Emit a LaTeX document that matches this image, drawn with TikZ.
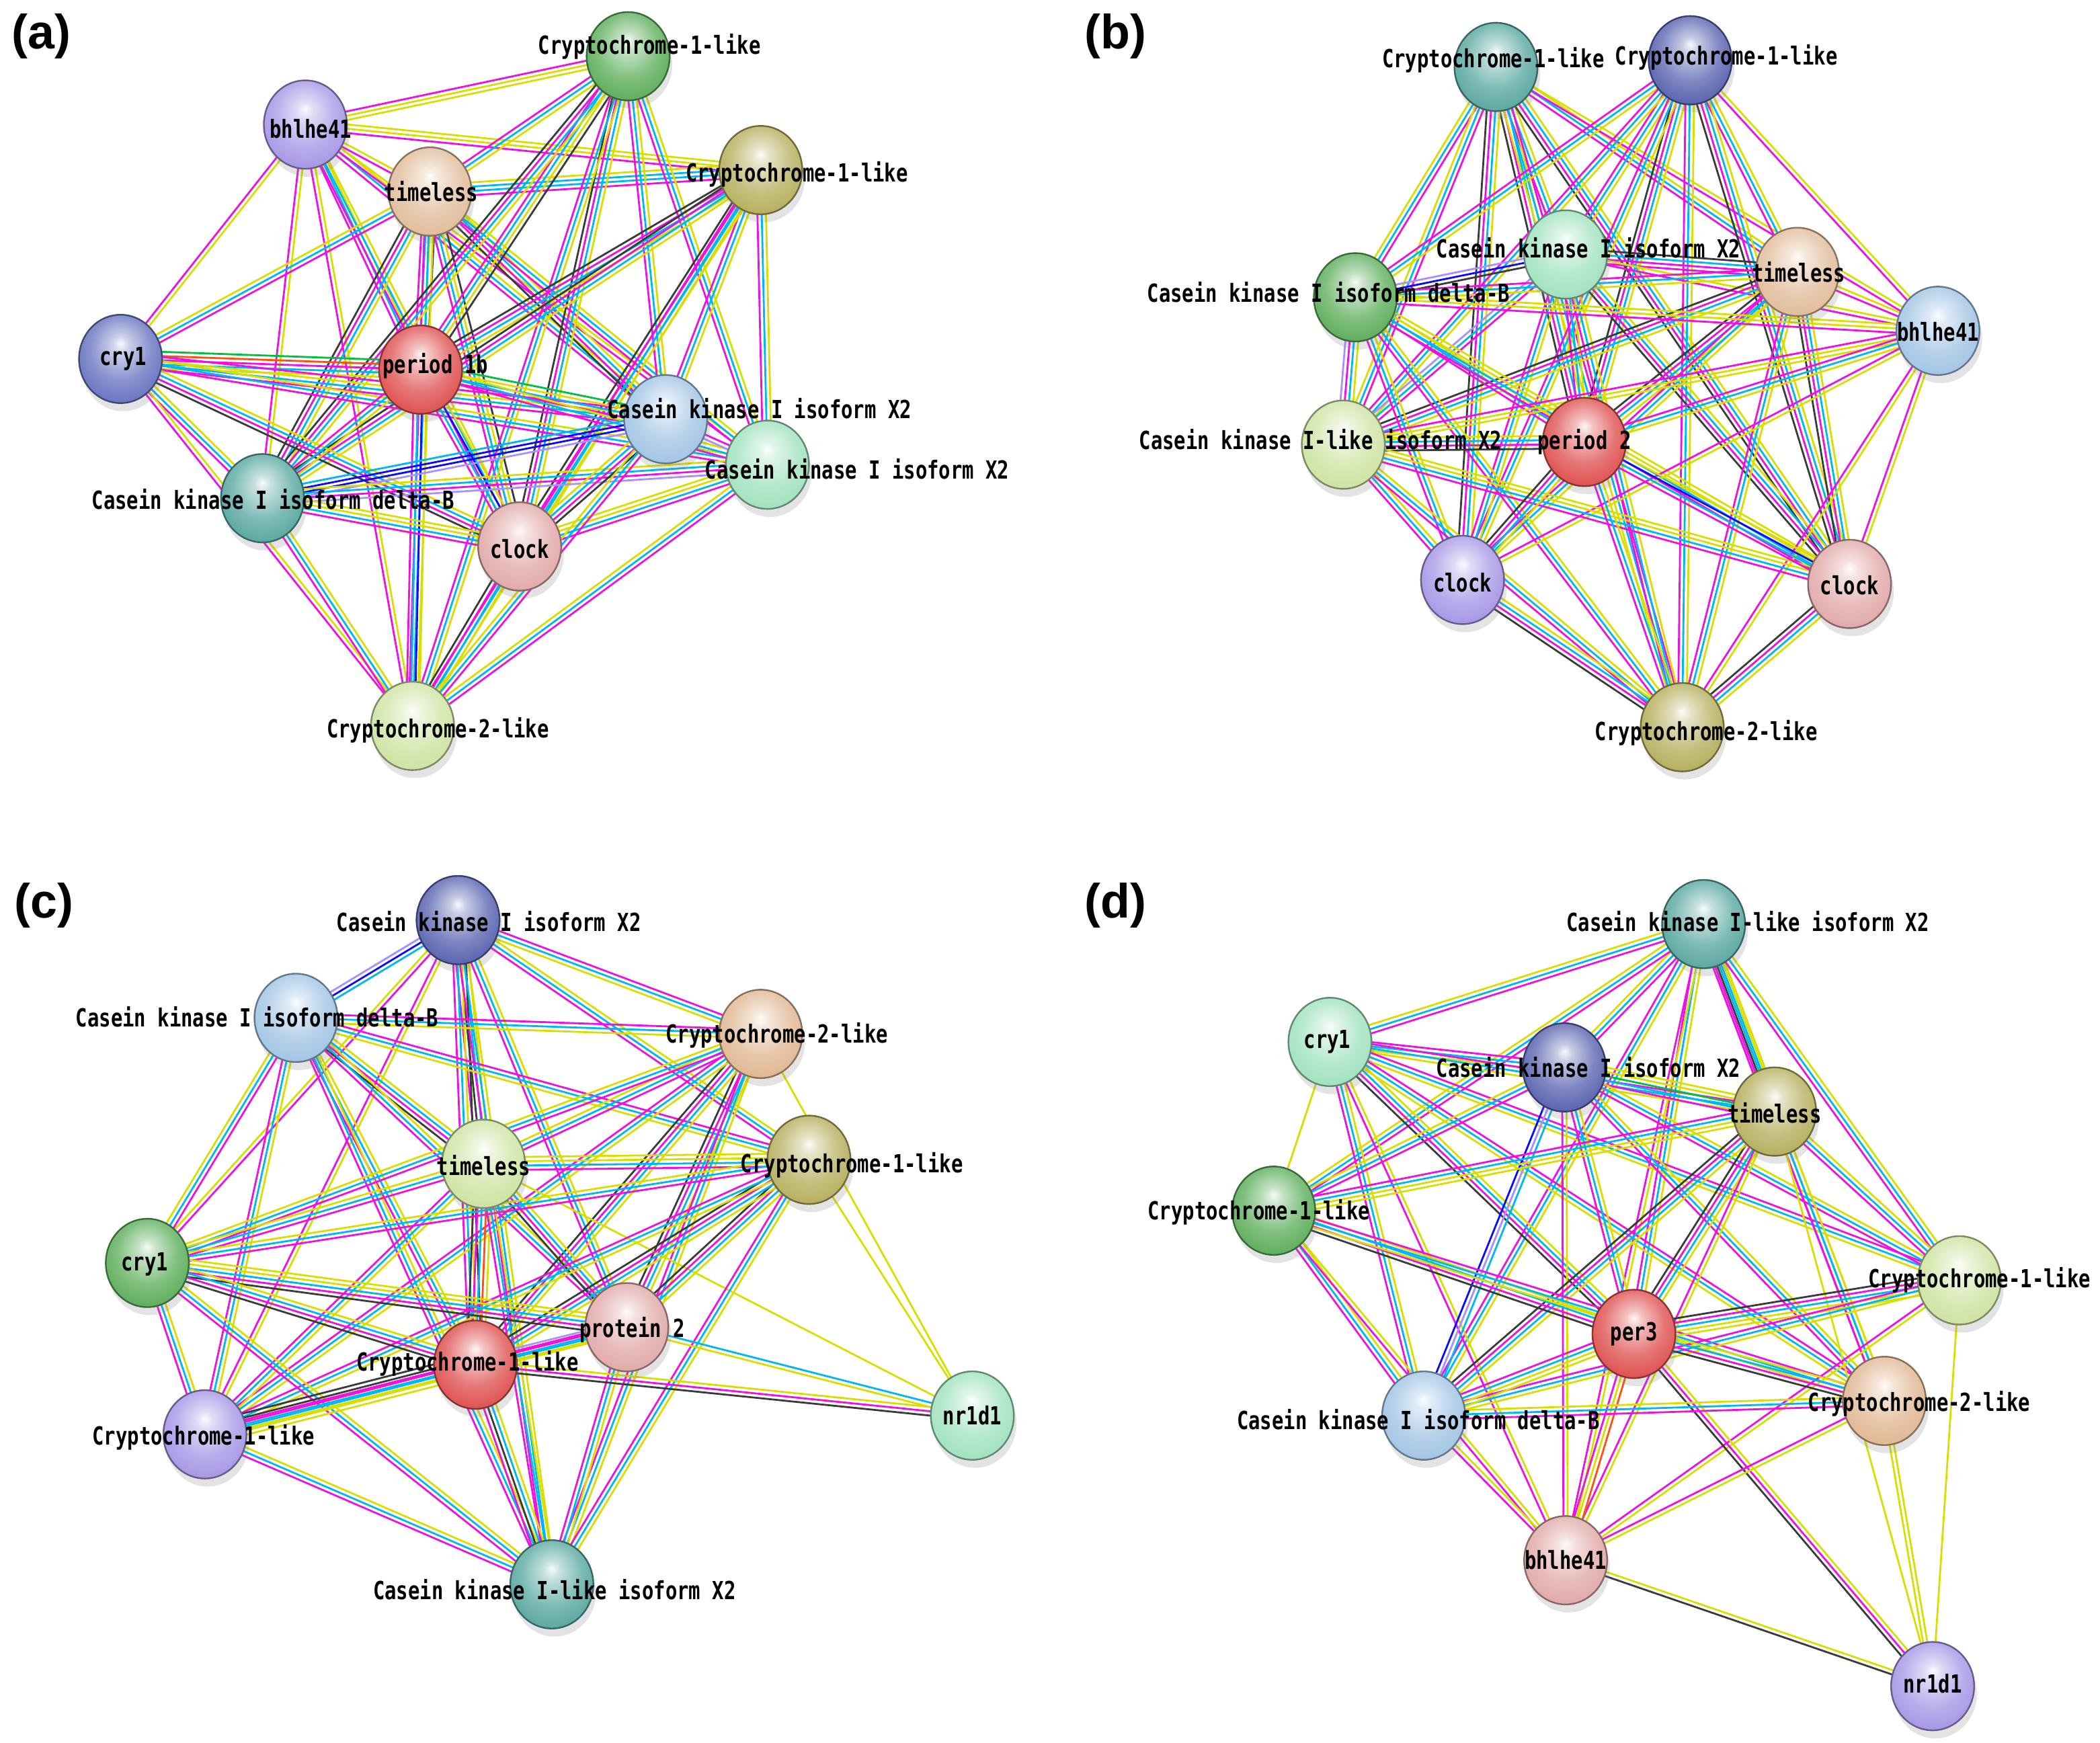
\documentclass[tikz,border=0pt]{standalone}
\usepackage{fontspec}
\setmainfont{Liberation Sans}
\newfontfamily\lblfont[FakeStretch=0.78]{DejaVu Sans Mono}
\usetikzlibrary{calc,shapes.geometric,shadows}
\pgfdeclarelayer{back}
\pgfdeclarelayer{edges}
\pgfsetlayers{back,edges,main}
% edge colours
\definecolor{ly}{HTML}{D8DF00}
\definecolor{lm}{HTML}{F010E0}
\definecolor{lc}{HTML}{00B8F0}
\definecolor{lk}{HTML}{3A3A3A}
\definecolor{lb}{HTML}{0A0AFF}
\definecolor{lp}{HTML}{A890FF}
\definecolor{lg}{HTML}{00C040}
\definecolor{lr}{HTML}{FF5010}
% node colours
\definecolor{nGreen}{HTML}{62B060}
\definecolor{nLav}{HTML}{A999E6}
\definecolor{nPeach}{HTML}{E3BE9E}
\definecolor{nOlive}{HTML}{B8B162}
\definecolor{nNavy}{HTML}{5E68B2}
\definecolor{nNavyL}{HTML}{6C78C2}
\definecolor{nRed}{HTML}{E05555}
\definecolor{nLBlue}{HTML}{A4C6E6}
\definecolor{nMint}{HTML}{A3E3C0}
\definecolor{nTeal}{HTML}{5EAAA3}
\definecolor{nPink}{HTML}{E2ABAB}
\definecolor{nYG}{HTML}{CFE4A5}
\definecolor{nTan}{HTML}{E2B996}
\colorlet{nodecol}{white}
\pgfdeclareradialshading[nodecol]{sphere}{\pgfqpoint{0bp}{9bp}}{%
 color(0bp)=(nodecol!5!white); color(5bp)=(nodecol!35!white);
 color(18bp)=(nodecol!80!white); color(28bp)=(nodecol);
 color(34bp)=(nodecol!70!black); color(50bp)=(nodecol!70!black)}
\tikzset{
  nd/.style={ellipse, minimum width=31pt, minimum height=33pt, inner sep=0pt,
    /utils/exec={\colorlet{nodecol}{#1}}, shading=sphere,
    draw=#1!60!black, line width=0.6pt,
    drop shadow={shadow xshift=1pt, shadow yshift=-3pt, opacity=0.22}},
  lbl/.style={font=\lblfont\bfseries\fontsize{9.3}{10}\selectfont, inner sep=0pt, text=black},
  plab/.style={font=\fontsize{18}{18}\selectfont\bfseries, inner sep=0pt},
  edge/.style={line width=0.7pt}
}
\newcommand\E[3]{%
  \foreach \cc [count=\ii] in {#3} {\xdef\nn{\ii}}%
  \foreach \cc [count=\ii] in {#3} {%
    \pgfmathsetmacro\off{(\ii-(\nn+1)/2)*1.6}%
    \draw[edge, draw=\cc] ($(#1.center)!\off pt!90:(#2.center)$) -- ($(#2.center)!\off pt!-90:(#1.center)$);%
  }%
}
\begin{document}
\begin{tikzpicture}[x=0.5pt,y=-0.5pt]
\begin{pgfonlayer}{back}
\fill[white] (0,0) rectangle (1568,1301);
\end{pgfonlayer}
\useasboundingbox (0,0) rectangle (1568,1301);

% ---------------- panel labels
\node[plab] (pa) at (31,27) {(a)};
\node[plab] (pb) at (833,27) {(b)};
\node[plab] (pc) at (33,676) {(c)};
\node[plab] (pd) at (833,676) {(d)};

% ---------------- nodes (a)
\node[nd=nGreen] (a1) at (469,42) {};
\node[nd=nLav] (a2) at (228,93) {};
\node[nd=nPeach] (a3) at (321,143) {};
\node[nd=nOlive] (a4) at (568,127) {};
\node[nd=nNavyL] (a5) at (90,268) {};
\node[nd=nRed] (a6) at (314,276) {};
\node[nd=nLBlue] (a7) at (497,313) {};
\node[nd=nMint] (a8) at (573,347) {};
\node[nd=nTeal] (a9) at (196,372) {};
\node[nd=nPink] (a10) at (388,408) {};
\node[nd=nYG] (a11) at (308,542) {};
% ---------------- nodes (b)
\node[nd=nTeal] (b1) at (1117,50) {};
\node[nd=nNavy] (b2) at (1262,45) {};
\node[nd=nMint] (b3) at (1169,190) {};
\node[nd=nPeach] (b4) at (1342,203) {};
\node[nd=nGreen] (b5) at (1012,222) {};
\node[nd=nLBlue] (b6) at (1447,247) {};
\node[nd=nYG] (b7) at (1003,332) {};
\node[nd=nRed] (b8) at (1183,330) {};
\node[nd=nLav] (b9) at (1092,433) {};
\node[nd=nPink] (b10) at (1381,436) {};
\node[nd=nOlive] (b11) at (1256,543) {};
% ---------------- nodes (c)
\node[nd=nNavy] (c1) at (342,687) {};
\node[nd=nLBlue] (c2) at (221,760) {};
\node[nd=nTan] (c3) at (568,772) {};
\node[nd=nYG] (c4) at (361,869) {};
\node[nd=nOlive] (c5) at (604,866) {};
\node[nd=nGreen] (c6) at (110,943) {};
\node[nd=nPink] (c7) at (468,991) {};
\node[nd=nRed] (c8) at (355,1019) {};
\node[nd=nMint] (c9) at (726,1057) {};
\node[nd=nLav] (c10) at (153,1071) {};
\node[nd=nTeal] (c11) at (412,1183) {};
% ---------------- nodes (d)
\node[nd=nTeal] (d1) at (1272,690) {};
\node[nd=nMint] (d2) at (993,778) {};
\node[nd=nNavy] (d3) at (1168,797) {};
\node[nd=nOlive] (d4) at (1325,830) {};
\node[nd=nGreen] (d5) at (951,904) {};
\node[nd=nYG] (d6) at (1463,956) {};
\node[nd=nRed] (d7) at (1220,996) {};
\node[nd=nTan] (d8) at (1407,1046) {};
\node[nd=nLBlue] (d9) at (1063,1057) {};
\node[nd=nPink] (d10) at (1169,1165) {};
\node[nd=nLav] (d11) at (1443,1259) {};

\begin{pgfonlayer}{edges}
% ---------------- edges (a)
\E{a2}{a1}{ly,ly,lm}
\E{a2}{a4}{lm,ly,ly}
\E{a2}{a3}{lm,ly}
\E{a2}{a5}{lm,ly}
\E{a2}{a6}{lm,lc,ly}
\E{a2}{a7}{lm,lc,ly}
\E{a2}{a8}{lm,ly}
\E{a2}{a9}{lm,ly}
\E{a2}{a10}{lm,lc,ly}
\E{a2}{a11}{lm,ly}
\E{a3}{a1}{ly,lc,lm}
\E{a3}{a4}{lm,lc,lc,ly}
\E{a3}{a5}{ly,lc,lm}
\E{a3}{a6}{lm,lc,ly,lk}
\E{a3}{a7}{lk,lm,lc,ly}
\E{a3}{a8}{lm,lc,ly}
\E{a3}{a9}{lk,lm,lc,ly}
\E{a3}{a10}{lm,lc,ly,lk}
\E{a3}{a11}{lm,lc,ly}
\E{a1}{a6}{lm,lc,ly,lk}
\E{a1}{a7}{lm,lc,ly}
\E{a1}{a8}{lm,lc,ly}
\E{a1}{a9}{lk,lm,lc,ly}
\E{a1}{a10}{lk,lm,lc,ly}
\E{a1}{a11}{lm,lc,ly}
\E{a4}{a6}{lk,lm,lc,ly}
\E{a4}{a7}{lm,lc,ly}
\E{a4}{a8}{lm,lc,ly}
\E{a4}{a9}{lk,lm,lc,ly}
\E{a4}{a10}{lk,lm,lc,ly}
\E{a4}{a11}{lm,lc,ly}
\E{a5}{a6}{ly,lc,lm,lr,lg}
\E{a5}{a7}{lm,lc,ly,lm}
\E{a5}{a8}{lm,lc,ly}
\E{a5}{a9}{lm,lc,ly}
\E{a5}{a10}{lk,lm,lc,ly}
\E{a5}{a11}{lm,ly}
\E{a6}{a7}{lm,lc,ly,lg}
\E{a6}{a8}{lm,lc,ly}
\E{a6}{a9}{lm,lc,ly}
\E{a6}{a10}{lm,lc,lb,ly}
\E{a6}{a11}{lm,lc,lb,ly}
\E{a9}{a7}{lp,lb,lb,lc}
\E{a9}{a8}{lp,lm,lc,ly}
\E{a9}{a10}{lm,lc,ly,ly}
\E{a9}{a11}{lm,lc,ly}
\E{a10}{a7}{lk,lm,lc,ly}
\E{a10}{a8}{lm,lc,ly,ly}
\E{a10}{a11}{lk,lm,lc,ly}
\E{a7}{a8}{lp,lm}
\E{a7}{a11}{ly,lc,lm}
\E{a8}{a11}{ly,lc,lm}
% ---------------- edges (b)
\E{b1}{b3}{lm,lc,ly}
\E{b1}{b4}{lm,lc,ly}
\E{b1}{b5}{ly,lc,lm}
\E{b1}{b6}{lm,ly}
\E{b1}{b7}{ly,lc,lm}
\E{b1}{b8}{lk,lm,lc,ly}
\E{b1}{b9}{lk,lm,lc,ly}
\E{b1}{b10}{lk,lm,lc,ly}
\E{b1}{b11}{ly,lc,lm}
\E{b2}{b3}{lm,lc,ly}
\E{b2}{b4}{lm,lc,ly}
\E{b2}{b5}{lm,lc,ly}
\E{b2}{b6}{lm,ly}
\E{b2}{b7}{lm,lc,ly}
\E{b2}{b8}{lk,lm,lc,ly}
\E{b2}{b9}{lm,lc,ly}
\E{b2}{b10}{lk,lm,lc,ly}
\E{b2}{b11}{lm,lc,ly}
\E{b3}{b4}{lm,lm,lc,lk}
\E{b3}{b5}{lp,lb,lk}
\E{b3}{b6}{lm,ly}
\E{b3}{b7}{lp,lc,lm}
\E{b3}{b8}{lm,lc,ly}
\E{b3}{b9}{lm,lc,ly}
\E{b3}{b10}{lk,lm,lc,ly}
\E{b3}{b11}{lm,lc,ly}
\E{b4}{b5}{lm,lc,ly}
\E{b4}{b6}{lm,ly}
\E{b4}{b7}{lk,lm,lc,ly}
\E{b4}{b8}{lk,lm,lc,ly}
\E{b4}{b9}{lm,lc,ly}
\E{b4}{b10}{lk,lm,lc,ly}
\E{b4}{b11}{lm,lc,ly}
\E{b5}{b6}{lm,ly,ly}
\E{b5}{b7}{lp,lm,lc,ly}
\E{b5}{b8}{lm,lc,ly}
\E{b5}{b9}{lm,lc,ly}
\E{b5}{b10}{lm,lc,ly,ly}
\E{b5}{b11}{lm,lc,ly}
\E{b6}{b7}{lm,ly,ly}
\E{b6}{b8}{lm,lc,ly}
\E{b6}{b9}{lm,ly}
\E{b6}{b10}{lm,ly}
\E{b6}{b11}{lm,ly}
\E{b7}{b8}{lk,lm,lc,ly}
\E{b7}{b9}{lm,lc,ly}
\E{b7}{b10}{lm,lc,ly,ly}
\E{b7}{b11}{lm,lc,ly}
\E{b8}{b9}{lk,lm,lc,ly}
\E{b8}{b10}{lm,lc,lb,ly}
\E{b8}{b11}{lm,lc,ly}
\E{b9}{b11}{lk,lm,lc,ly}
\E{b10}{b11}{lk,lm,lc,ly}
% ---------------- edges (c)
\E{c1}{c2}{lp,lb,lc}
\E{c1}{c3}{ly,lc,lm}
\E{c1}{c4}{lm,lk,lc,ly}
\E{c1}{c5}{lm,lc,ly}
\E{c1}{c6}{ly,lm}
\E{c1}{c7}{lm,lc,ly}
\E{c1}{c8}{lm,lc,ly,lk}
\E{c1}{c10}{lm,ly}
\E{c1}{c11}{lm,lc,ly}
\E{c2}{c3}{ly,lc,lm}
\E{c2}{c4}{lk,lm,lc,ly}
\E{c2}{c5}{ly,lc,lm}
\E{c2}{c6}{ly,lc,lm}
\E{c2}{c7}{lm,lc,ly}
\E{c2}{c8}{lm,lc,ly}
\E{c2}{c10}{lm,lc,ly}
\E{c2}{c11}{lm,lc,ly}
\E{c3}{c4}{ly,lc,lm}
\E{c3}{c6}{ly,lc,lm}
\E{c3}{c7}{lk,lm,lc,ly}
\E{c3}{c8}{lk,lm,lc,ly}
\E{c3}{c9}{ly}
\E{c3}{c10}{lm,lc,ly}
\E{c3}{c11}{lm,lc,ly}
\E{c4}{c5}{lm,lc,ly,ly}
\E{c4}{c6}{ly,lc,lm}
\E{c4}{c7}{lk,lm,lc,ly}
\E{c4}{c8}{lk,lm,lc,lr,ly}
\E{c4}{c9}{ly}
\E{c4}{c10}{lm,lc,ly}
\E{c4}{c11}{lm,lc,ly}
\E{c5}{c6}{ly,lc,lm}
\E{c5}{c7}{lk,lm,lc,ly}
\E{c5}{c8}{lk,lm,lc,ly}
\E{c5}{c9}{ly}
\E{c5}{c10}{lm,lc,ly}
\E{c5}{c11}{lm,lc,ly}
\E{c6}{c7}{lk,lm,lc,ly,ly}
\E{c6}{c8}{lk,lm,lc,ly}
\E{c6}{c10}{lm,lc,ly}
\E{c6}{c11}{lm,lc,ly}
\E{c7}{c8}{lp,lm,lc,ly}
\E{c7}{c9}{ly,lc}
\E{c7}{c10}{lm,lc,ly}
\E{c7}{c11}{lm,lc,ly}
\E{c8}{c9}{lk,lm,ly}
\E{c8}{c10}{lk,lk,lm,lc,ly,ly}
\E{c8}{c11}{lm,lk,lc,ly}
\E{c10}{c11}{lm,lc,ly}
% ---------------- edges (d)
\E{d1}{d2}{ly,lc,lm}
\E{d1}{d3}{ly,lc,lm}
\E{d1}{d4}{lm,lk,lc,ly}
\E{d1}{d5}{ly,lc,lm}
\E{d1}{d6}{lm,lc,ly}
\E{d1}{d7}{lm,lc,ly}
\E{d1}{d8}{lm,lc,ly}
\E{d1}{d9}{lm,lc,ly}
\E{d1}{d10}{lm,ly}
\E{d2}{d3}{ly,lc,lm}
\E{d2}{d4}{ly,lc,lm}
\E{d2}{d5}{ly}
\E{d2}{d6}{ly,lc,lm}
\E{d2}{d7}{lk,lm,lc,ly}
\E{d2}{d8}{ly,lc,lm}
\E{d2}{d9}{lm,lc,ly}
\E{d2}{d10}{lm,ly}
\E{d3}{d4}{lm,lc,lg,ly,ly}
\E{d3}{d5}{ly,lc,lm}
\E{d3}{d6}{lm,lc,ly}
\E{d3}{d7}{lm,lc,ly}
\E{d3}{d8}{lm,lc,ly}
\E{d3}{d9}{lb,lp,lc}
\E{d3}{d10}{lm,ly}
\E{d4}{d5}{lm,lc,ly,ly}
\E{d4}{d6}{lm,lc,ly}
\E{d4}{d7}{lk,lm,lc,ly}
\E{d4}{d8}{lm,lc,ly}
\E{d4}{d9}{lk,lm,lc,ly}
\E{d4}{d10}{lm,ly}
\E{d4}{d11}{ly}
\E{d5}{d7}{lk,lm,lc,ly}
\E{d5}{d8}{ly,lc,lm}
\E{d5}{d9}{lm,lc,ly}
\E{d5}{d10}{lm,ly}
\E{d6}{d7}{lk,lm,lc,ly,ly}
\E{d6}{d9}{lm,lc,ly}
\E{d6}{d10}{lm,ly}
\E{d6}{d11}{ly}
\E{d7}{d8}{lk,lm,lc,ly}
\E{d7}{d9}{lm,lc,ly,ly}
\E{d7}{d10}{lm,ly,lr}
\E{d7}{d11}{lk,lm,ly}
\E{d8}{d9}{ly,lc,lm}
\E{d8}{d10}{lm,ly}
\E{d8}{d11}{ly,ly}
\E{d9}{d10}{lm,ly}
\E{d10}{d11}{lk,ly}
\end{pgfonlayer}

% ---------------- labels (a)
\node[lbl] (a1t) at (485,35) {Cryptochrome-1-like};
\node[lbl] (a2t) at (232,96) {bhlhe41};
\node[lbl] (a3t) at (322,143) {timeless};
\node[lbl] (a4t) at (595,130) {Cryptochrome-1-like};
\node[lbl] (a5t) at (92,268) {cry1};
\node[lbl] (a6t) at (325,273) {period 1b};
\node[lbl] (a7t) at (567,305) {Casein kinase I isoform X2};
\node[lbl] (a8t) at (640,350) {Casein kinase I isoform X2};
\node[lbl] (a9t) at (204,373) {Casein kinase I isoform delta-B};
\node[lbl] (a10t) at (388,410) {clock};
\node[lbl] (a11t) at (327,545) {Cryptochrome-2-like};
% ---------------- labels (b)
\node[lbl] (b1t) at (1115,45) {Cryptochrome-1-like};
\node[lbl] (b2t) at (1289,43) {Cryptochrome-1-like};
\node[lbl] (b3t) at (1186,185) {Casein kinase I isoform X2};
\node[lbl] (b4t) at (1343,203) {timeless};
\node[lbl] (b5t) at (992,218) {Casein kinase I isoform delta-B};
\node[lbl] (b6t) at (1447,248) {bhlhe41};
\node[lbl] (b7t) at (986,328) {Casein kinase I-like isoform X2};
\node[lbl] (b8t) at (1183,330) {period 2};
\node[lbl] (b9t) at (1092,435) {clock};
\node[lbl] (b10t) at (1381,437) {clock};
\node[lbl] (b11t) at (1274,547) {Cryptochrome-2-like};
% ---------------- labels (c)
\node[lbl] (c1t) at (365,688) {Casein kinase I isoform X2};
\node[lbl] (c2t) at (192,759) {Casein kinase I isoform delta-B};
\node[lbl] (c3t) at (580,773) {Cryptochrome-2-like};
\node[lbl] (c4t) at (361,870) {timeless};
\node[lbl] (c5t) at (636,870) {Cryptochrome-1-like};
\node[lbl] (c6t) at (108,944) {cry1};
\node[lbl] (c7t) at (472,993) {protein 2};
\node[lbl] (c8t) at (349,1018) {Cryptochrome-1-like};
\node[lbl] (c9t) at (726,1057) {nr1d1};
\node[lbl] (c10t) at (152,1073) {Cryptochrome-1-like};
\node[lbl] (c11t) at (414,1187) {Casein kinase I-like isoform X2};
% ---------------- labels (d)
\node[lbl] (d1t) at (1305,688) {Casein kinase I-like isoform X2};
\node[lbl] (d2t) at (991,778) {cry1};
\node[lbl] (d3t) at (1186,797) {Casein kinase I isoform X2};
\node[lbl] (d4t) at (1325,831) {timeless};
\node[lbl] (d5t) at (940,905) {Cryptochrome-1-like};
\node[lbl] (d6t) at (1478,956) {Cryptochrome-1-like};
\node[lbl] (d7t) at (1220,996) {per3};
\node[lbl] (d8t) at (1433,1048) {Cryptochrome-2-like};
\node[lbl] (d9t) at (1059,1060) {Casein kinase I isoform delta-B};
\node[lbl] (d10t) at (1169,1165) {bhlhe41};
\node[lbl] (d11t) at (1443,1257) {nr1d1};
\end{tikzpicture}
\end{document}
